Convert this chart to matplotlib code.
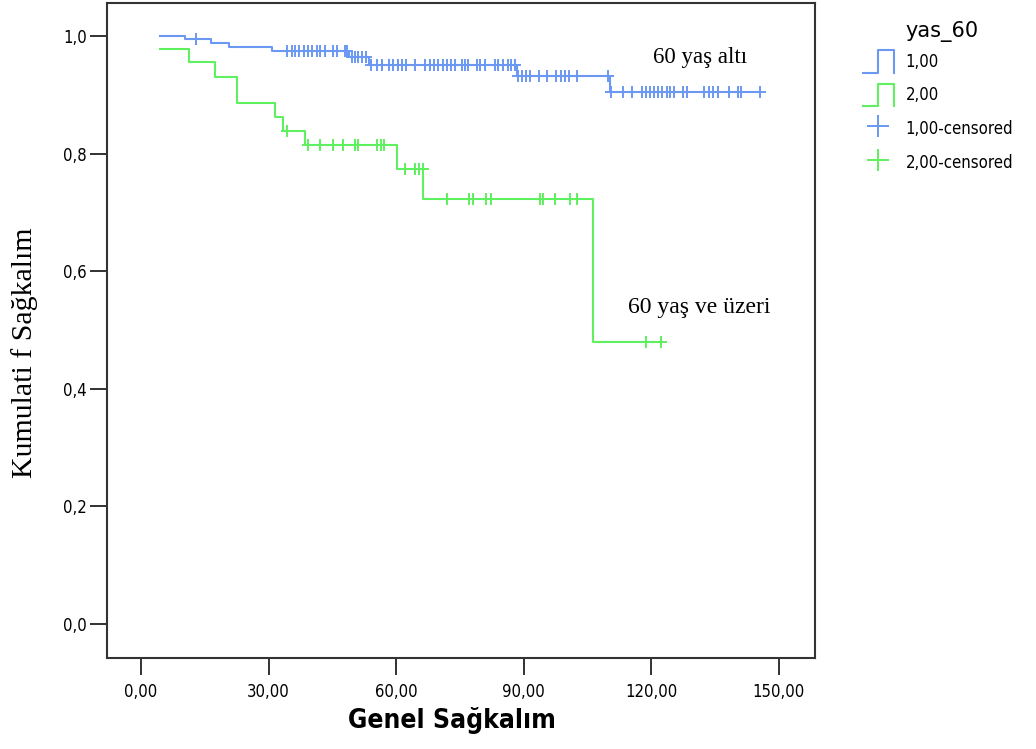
"""
Kaplan-Meier eğrisi: yas_60 gruplarına göre genel sağkalım.
"""

import matplotlib

matplotlib.use("Agg")

import matplotlib.pyplot as plt
import numpy as np
from matplotlib.legend_handler import HandlerBase
from matplotlib.lines import Line2D

# --- grup 1 (60 yaş altı) ---
blue_event_times = [4.5, 10.3, 16.5, 20.8, 30.7, 49.0, 53.7, 88.5, 110.4]
blue_levels = [1.0, 0.994, 0.988, 0.981, 0.974, 0.965, 0.950, 0.932, 0.905]
blue_censored = [
    12.9, 34.4, 35.4, 36.2, 37.2, 38.3, 39.3, 40.3, 41.3, 42.2, 43.3, 45.2,
    46.2, 48.0, 48.5, 49.5, 50.3, 51.1, 51.9, 52.8, 54.2, 55.4, 56.6, 58.4,
    59.3, 60.4, 61.3, 62.3, 64.4, 66.8, 68.0, 69.0, 69.9, 70.9, 71.9, 73.0,
    73.8, 75.4, 76.2, 77.0, 78.9, 79.7, 80.9, 83.2, 84.0, 85.2, 86.3, 87.1,
    87.9, 88.7, 89.5, 90.5, 91.5, 93.7, 95.5, 97.6, 98.7, 99.7, 100.7, 102.6,
    109.9, 110.6, 113.4, 115.4, 117.7, 118.7, 119.7, 120.7, 121.6, 122.6,
    123.6, 124.4, 125.3, 127.5, 128.4, 132.4, 133.6, 134.5, 135.6, 138.3,
    140.3, 141.2, 145.5,
]

# --- grup 2 (60 yaş ve üzeri) ---
green_event_times = [4.5, 11.3, 17.4, 22.5, 31.5, 33.3, 38.6, 60.1, 66.4, 106.4]
green_levels = [0.977, 0.955, 0.930, 0.886, 0.862, 0.838, 0.814, 0.773, 0.722, 0.479]
green_censored = [
    34.3, 39.3, 42.1, 45.2, 47.6, 50.3, 51.1, 55.6, 56.4, 57.2, 62.1, 64.4,
    65.4, 66.3, 72.0, 77.2, 78.1, 81.1, 82.4, 93.8, 94.6, 97.3, 100.9, 102.5,
    118.7, 122.4,
]

x_ticks = [0, 30, 60, 90, 120, 150]
x_tick_labels = ["0,00", "30,00", "60,00", "90,00", "120,00", "150,00"]
y_ticks = [0.0, 0.2, 0.4, 0.6, 0.8, 1.0]
y_tick_labels = ["0,0", "0,2", "0,4", "0,6", "0,8", "1,0"]

legend_labels = ["1,00", "2,00", "1,00-censored", "2,00-censored"]

BLUE = "#6a98f2"
GREEN = "#5ef05e"

NARROW = ["DejaVu Sans"]
SERIF = ["Liberation Serif", "DejaVu Serif"]


class StepHandler(HandlerBase):
    """SPSS tarzı basamak simgesi."""

    def create_artists(self, legend, orig_handle, xdescent, ydescent,
                       width, height, fontsize, trans):
        x0, y0 = -xdescent, -ydescent
        xs = [x0, x0 + 0.48 * width, x0 + 0.48 * width, x0 + width, x0 + width]
        ys = [y0, y0, y0 + height, y0 + height, y0]
        line = Line2D(xs, ys, color=orig_handle.get_color(), lw=1.5,
                      transform=trans)
        return [line]


def level_at(event_times, levels, t):
    """t anındaki sağkalım düzeyi."""
    idx = np.searchsorted(event_times, t, side="right") - 1
    return np.asarray(levels)[idx]


def draw_group(ax, event_times, levels, censored, color):
    end = max(censored)
    xs = np.append(event_times, end)
    ys = np.append(levels, levels[-1])
    (line,) = ax.step(xs, ys, where="post", color=color, lw=1.5)

    cy = level_at(event_times, levels, np.array(censored))
    (marks,) = ax.plot(censored, cy, ls="none", marker="+", ms=9, mew=1.4,
                       color=color)
    return line, marks


def main():
    fig = plt.figure(figsize=(10.36, 7.49), dpi=100)
    ax = fig.add_axes([107 / 1036, 91 / 749, 708 / 1036, 655 / 749])

    l1, m1 = draw_group(ax, blue_event_times, blue_levels, blue_censored, BLUE)
    l2, m2 = draw_group(ax, green_event_times, green_levels, green_censored, GREEN)

    ax.set_xlim(-8.0, 158.5)
    ax.set_ylim(-0.058, 1.056)

    ax.set_xticks(x_ticks)
    ax.set_xticklabels(x_tick_labels, family=NARROW, fontsize=12,
                       fontstretch="condensed")
    ax.set_yticks(y_ticks)
    ax.set_yticklabels(y_tick_labels, family=NARROW, fontsize=12,
                       fontstretch="condensed")
    ax.tick_params(axis="x", length=12, width=1.3, pad=6, color="#222222")
    ax.tick_params(axis="y", length=12, width=1.3, pad=2.5, color="#222222")

    for s in ax.spines.values():
        s.set_linewidth(1.5)
        s.set_color("#333333")

    ax.set_xlabel("Genel Sağkalım", family=NARROW, fontstretch="condensed",
                  fontweight="bold", fontsize=19)
    ax.xaxis.set_label_coords(0.487, -0.075, transform=ax.transAxes)
    ax.set_ylabel("Kumulati f Sağkalım", family=SERIF, fontsize=21.5)
    ax.yaxis.set_label_coords(-0.097, 0.466, transform=ax.transAxes)

    ax.text(120.4, 0.9625, "60 yaş altı", family=SERIF, fontsize=16.5,
            ha="left", va="center")
    ax.text(114.5, 0.538, "60 yaş ve üzeri", family=SERIF, fontsize=17,
            ha="left", va="center")

    # legend (sağ üst, çerçevesiz)
    fig.text(905 / 1036, 1 - 32 / 749, "yas_60", family=NARROW, fontsize=15,
             ha="left", va="center")
    fig.legend(
        [l1, l2, m1, m2],
        legend_labels,
        handler_map={l1: StepHandler(), l2: StepHandler()},
        loc="upper left",
        bbox_to_anchor=(863 / 1036, 1 - 50 / 749),
        frameon=False,
        prop={"family": NARROW, "size": 12, "stretch": "condensed"},
        handlelength=1.85,
        handleheight=1.7,
        handletextpad=0.7,
        labelspacing=0.68,
        markerscale=1.7,
        borderpad=0,
        borderaxespad=0,
    )

    fig.savefig("out.png", dpi=100)
    plt.close(fig)


if __name__ == "__main__":
    main()
